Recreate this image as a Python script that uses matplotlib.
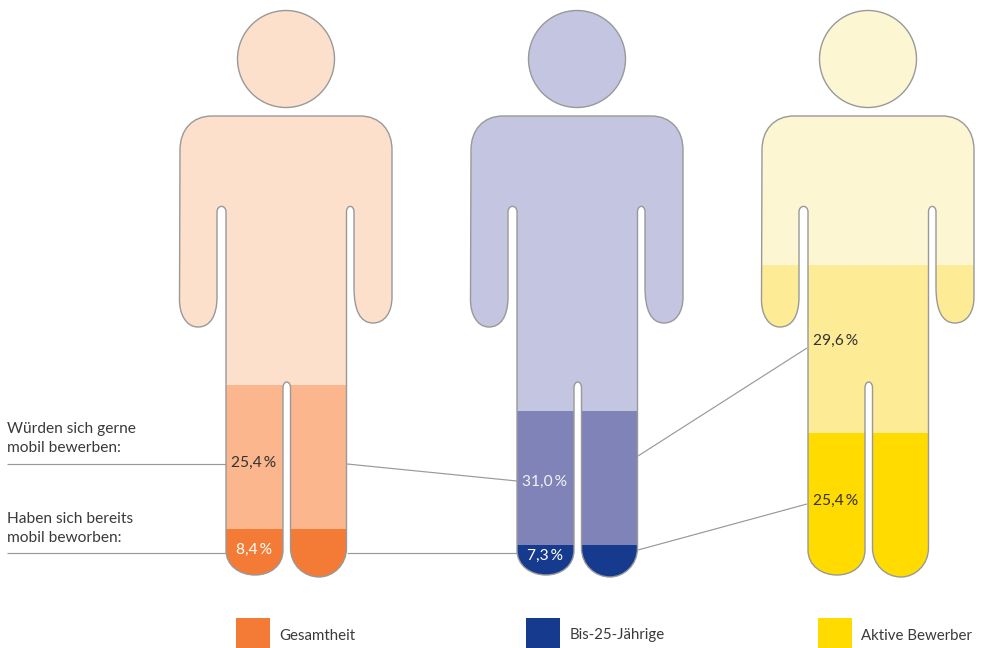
import matplotlib
matplotlib.use('Agg')
import matplotlib.pyplot as plt
from matplotlib.path import Path
from matplotlib.patches import PathPatch, Circle, Rectangle
from matplotlib.transforms import Affine2D

plt.rcParams['font.family'] = ['Lato', 'DejaVu Sans']

# Data
groups = ['Gesamtheit', 'Bis-25-Jährige', 'Aktive Bewerber']
already_applied = [8.4, 7.3, 25.4]
would_like = [25.4, 31.0, 29.6]
row_labels = ['Würden sich gerne\nmobil bewerben:', 'Haben sich bereits\nmobil beworben:']

# Colours per group: body, would like, already
light = ['#fce0cc', '#c3c5e1', '#fdf6d3']
mid = ['#fbb68d', '#7f83b8', '#feeb96']
dark = ['#f47b35', '#163b8e', '#ffdb00']
text_mid = ['#333333', '#f2f2f8', '#333333']
text_dark = ['#ffffff', '#ffffff', '#333333']

# Layout in pixels
offsets = [0, 291, 582]
px_per_pct = [5.67, 4.33, 5.67]  # the middle figure is drawn to its own scale
foot_y = 577
line_col = '#999999'
text_col = '#3a3a3a'
font_size = 11.2

# Silhouette of the first figure (the others are shifted copies)
M, L, C, Z = Path.MOVETO, Path.LINETO, Path.CURVE4, Path.CLOSEPOLY
body_segments = [
    (M, [(212, 116)]),
    (L, [(360, 116)]),
    (C, [(380, 116), (392, 130), (392, 150)]),
    (L, [(392, 297)]),
    (C, [(392, 312), (385, 323), (373, 323)]),
    (C, [(360, 323), (354, 310), (354, 287)]),
    (L, [(354, 212)]),
    (C, [(354, 204.5), (346.5, 204.5), (346.5, 212)]),
    (L, [(346.5, 548)]),
    (C, [(346.5, 565), (333, 577), (319, 577)]),
    (C, [(304, 577), (290.5, 565), (290.5, 548)]),
    (L, [(290.5, 388)]),
    (C, [(290.5, 380), (283, 380), (283, 388)]),
    (L, [(283, 550)]),
    (C, [(283, 566), (270, 575), (255, 575)]),
    (C, [(240, 575), (226, 566), (226, 550)]),
    (L, [(226, 212)]),
    (C, [(226, 204.5), (217, 204.5), (217, 212)]),
    (L, [(217, 297)]),
    (C, [(217, 316), (210, 327), (198, 327)]),
    (C, [(186, 327), (179.5, 314), (179.5, 300)]),
    (L, [(180, 150)]),
    (C, [(180, 130), (192, 116), (212, 116)]),
    (Z, [(212, 116)]),
]
verts, codes = [], []
for code, pts in body_segments:
    verts += pts
    codes += [code] * len(pts)
body_path = Path(verts, codes)

fig = plt.figure(figsize=(9.83, 6.48), dpi=100)
ax = fig.add_axes([0, 0, 1, 1])
ax.set_xlim(0, 983)
ax.set_ylim(648, 0)
ax.axis('off')

# Leader lines
leaders = [
    ([7, 226], [463.5, 463.5]), ([7, 226], [553, 553]),
    ([347, 517], [464, 481]), ([347, 517], [553, 553]),
    ([638, 807], [456, 348]), ([638, 807], [550, 504]),
]
for xs, ys in leaders:
    ax.plot(xs, ys, color=line_col, lw=0.85, zorder=1, solid_capstyle='butt')

for i, off in enumerate(offsets):
    path = body_path.transformed(Affine2D().translate(off, 0))
    ax.add_patch(Circle((286 + off, 59), 48.5, fc=light[i], ec=line_col, lw=1.0, zorder=2))
    body = PathPatch(path, fc=light[i], ec='none', zorder=2)
    ax.add_patch(body)

    # Bands, clipped to the silhouette
    y_low = foot_y - already_applied[i] * px_per_pct[i]
    y_high = foot_y - (already_applied[i] + would_like[i]) * px_per_pct[i]
    bars = ax.bar([286 + off, 286 + off], [y_low - y_high, foot_y - y_low],
                  bottom=[y_high, y_low], width=240,
                  color=[mid[i], dark[i]], zorder=3)
    for bar in bars:
        bar.set_clip_path(body)

    ax.add_patch(PathPatch(path, fc='none', ec=line_col, lw=1.0, zorder=4))

# Value labels
mid_y = [463, 482, 341]
low_y = [550, 556, 501]
for i, off in enumerate(offsets):
    cx = 254 + off
    ax.text(cx, mid_y[i], f'{would_like[i]:.1f}\u2009%'.replace('.', ','), color=text_mid[i],
            fontsize=font_size, ha='center', va='center', zorder=5)
    ax.text(cx, low_y[i], f'{already_applied[i]:.1f}\u2009%'.replace('.', ','), color=text_dark[i],
            fontsize=font_size, ha='center', va='center', zorder=5)

# Row labels
for label, y in zip(row_labels, [438.5, 528.5]):
    ax.text(7, y, label, color=text_col, fontsize=font_size, ha='left', va='center',
            linespacing=1.45)

# Legend
for i, off in enumerate(offsets):
    ax.add_patch(Rectangle((236 + off - (1 if i == 1 else 0), 618), 34, 30, fc=dark[i], ec='none'))
    ax.text(279 + off, 635.5, groups[i], color=text_col, fontsize=font_size - 0.4,
            ha='left', va='center')

fig.savefig('out.png', dpi=100)
